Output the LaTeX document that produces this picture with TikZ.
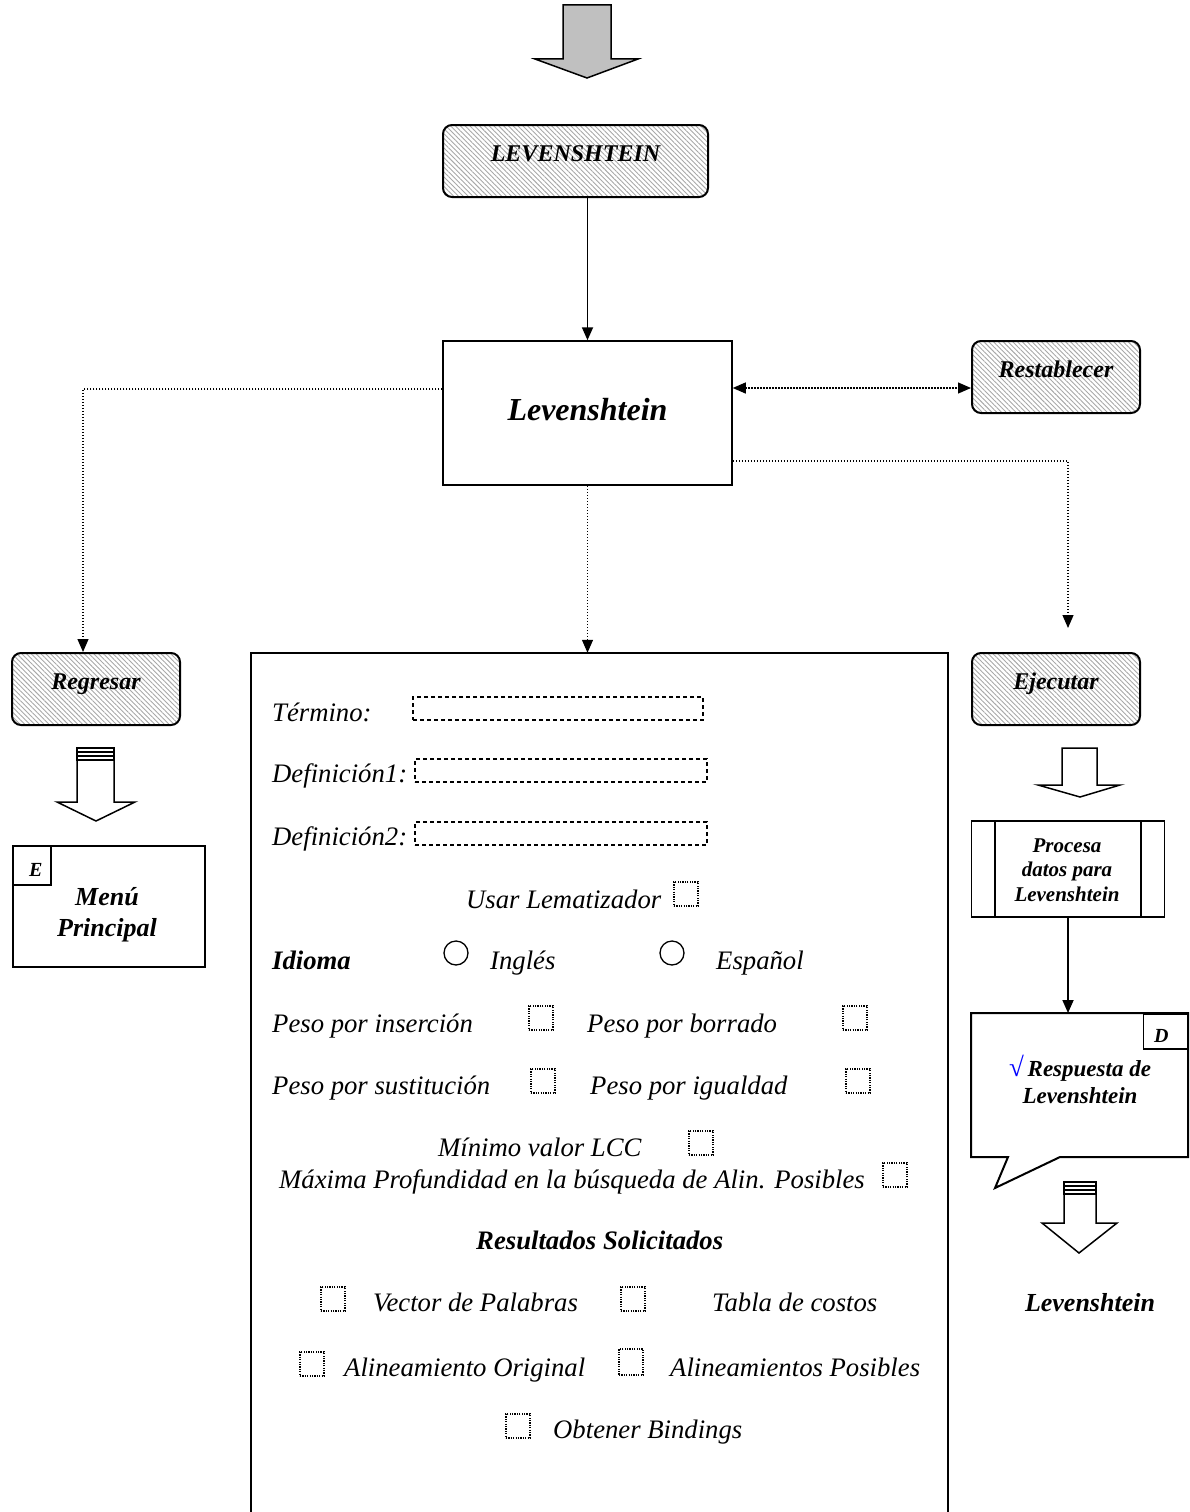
\documentclass[tikz,border=0pt]{standalone}
\usepackage{fontspec}
\setmainfont{Liberation Serif}
\usetikzlibrary{arrows.meta,patterns.meta}

\definecolor{hatch}{RGB}{168,168,168}
\definecolor{shade}{RGB}{192,192,192}

\tikzset{
  btn/.style={draw, line width=2pt, rounded corners=9pt, inner sep=0pt,
    minimum width=168pt, minimum height=72pt, text height=10pt, text depth=10pt,
    pattern={Lines[angle=-45,distance=3.4pt,line width=0.9pt]}, pattern color=hatch,
    font=\fontsize{24}{28}\selectfont\bfseries\itshape},
  plainbox/.style={draw, line width=1.5pt, inner sep=0pt},
  lbl/.style={anchor=base west, inner sep=0pt, font=\fontsize{26.7}{30}\selectfont\itshape},
  blbl/.style={lbl, font=\fontsize{26.7}{30}\selectfont\bfseries\itshape},
  field/.style={draw, line width=2pt, dash pattern=on 4pt off 3pt, inner sep=0pt,
    minimum height=23pt},
  chk/.style={draw, line width=1.1pt, dash pattern=on 1.2pt off 1.2pt, inner sep=0pt,
    minimum width=24pt, minimum height=24pt},
  radio/.style={draw, circle, line width=1.3pt, inner sep=0pt, minimum size=24pt},
  conn/.style={line width=1.8pt, -{Triangle[length=13pt,width=11pt]}},
  dconn/.style={line width=1.2pt, dash pattern=on 1.5pt off 1.5pt,
    -{Triangle[length=13pt,width=11pt]}},
  blk/.style={line width=1.5pt, fill=white, line join=miter},
  tag/.style={plainbox, inner sep=0pt, text height=22pt, text depth=0pt,
    font=\fontsize{20}{24}\selectfont\bfseries\itshape},
}

\begin{document}
\begin{tikzpicture}[x=1pt,y=-1pt]
\useasboundingbox (0,0) rectangle (1190,1512);

% entry arrow
\draw[line width=1.5pt, fill=shade] (563,5) -- (611,5) -- (611,59) -- (638,59)
  -- (587,78) -- (535,59) -- (563,59) -- cycle;

% main nodes
\node[btn, minimum width=265pt] (top) at (575.5,161) {LEVENSHTEIN};
\node[plainbox, minimum width=289pt, minimum height=144pt, text height=20pt, text depth=6pt,
  font=\fontsize{32}{36}\selectfont\bfseries\itshape] (lev) at (587.5,413) {Levenshtein};
\node[btn] (rest) at (1056,377) {Restablecer};
\node[btn] (reg) at (96,689) {Regresar};
\node[btn] (eje) at (1056,689) {Ejecutar};
\coordinate (ejin) at (1068,628);

% form panel (open at the bottom)
\node[minimum width=697pt, minimum height=860pt, inner sep=0pt] (form) at (599.5,1083) {};
\draw[line width=1.5pt] (form.south west) -- (form.north west) -- (form.north east) -- (form.south east);

% connectors
\draw[conn] (top.south -| lev.north) -- (lev.north);
\draw[dconn] (lev.west |- 0,389) -| ([xshift=-13pt]reg.north);
\draw[dconn, {Triangle[length=13pt,width=11pt]}-{Triangle[length=13pt,width=11pt]}]
  (lev.east |- 0,388) -- (rest.west |- 0,388);
\draw[dconn] (lev.east |- 0,461) -| (ejin);
\draw[dconn] (lev.south) -- (lev.south |- form.north);

% left column: back to main menu
\draw[blk] (77,760) -- (77,802) -- (57,802) -- (96,821) -- (135,802) -- (114,802) -- (114,760);
\draw[line width=1.5pt] (77,748) rectangle (114,760);
\draw[line width=1.3pt] (77,752) -- (114,752) (77,756) -- (114,756);
\node[plainbox, minimum width=192pt, minimum height=121pt, anchor=north west] (menu) at (12,845) {};
\node[align=center, inner sep=0pt, font=\fontsize{26}{31}\selectfont\bfseries\itshape]
  (menut) at (107,915) {Menú\\Principal};
\node[tag, minimum width=38pt, minimum height=39pt, anchor=north west] (ebox) at (12,845)
  {\hspace*{8pt}E};

% right column: run and answer
\draw[blk] (1062,748) -- (1097,748) -- (1097,785) -- (1120,785) -- (1080,797)
  -- (1038,785) -- (1062,785) -- cycle;
\node[plainbox, minimum width=193pt, minimum height=96pt] (proc) at (1068,869) {};
\draw[line width=1.5pt] (995,821) -- (995,917) (1141,821) -- (1141,917);
\node[align=center, inner sep=0pt, font=\fontsize{21}{24.5}\selectfont\bfseries\itshape]
  (proct) at (1067,870) {Procesa\\datos para\\Levenshtein};
\coordinate (calltop) at (1068,1013);
\draw[conn] (proc.south) -- (calltop);
\draw[line width=2pt, line join=miter] (971,1013) -- (1188,1013) -- (1188,1157) -- (1060,1157)
  -- (995,1188) -- (1008,1157) -- (971,1157) -- cycle;
\node[tag, minimum width=44pt, minimum height=35pt, anchor=north east] (dbox) at (1188,1013)
  {D\hspace*{8pt}};
\node[align=center, inner sep=0pt, font=\fontsize{23}{27}\selectfont\bfseries\itshape]
  (resp) at (1080,1079) {{\color{blue}\normalfont\fontsize{27}{27}\selectfont√}\,Respuesta de\\Levenshtein};
\draw[blk] (1064,1194) -- (1064,1223) -- (1042,1223) -- (1079,1253) -- (1117,1223)
  -- (1096,1223) -- (1096,1194);
\draw[line width=1.5pt] (1064,1182) rectangle (1096,1194);
\draw[line width=1.3pt] (1064,1186) -- (1096,1186) (1064,1190) -- (1096,1190);
\node[inner sep=0pt, font=\fontsize{26}{30}\selectfont\bfseries\itshape] (levout)
  at (1090,1303) {Levenshtein};

% form contents
\node[lbl] (t1) at (272,721) {Término:};
\node[field, minimum width=290pt, anchor=north west] (f1) at (412,696) {};
\node[lbl] (t2) at (272,782) {Definición1:};
\node[field, minimum width=292pt, anchor=north west] (f2) at (414,758) {};
\node[lbl] (t3) at (272,845) {Definición2:};
\node[field, minimum width=292pt, anchor=north west] (f3) at (414,821) {};

\node[lbl] (t4) at (466,908) {Usar Lematizador};
\node[chk] (c1) at (686,894) {};

\node[blbl] (t5) at (272,969) {Idioma};
\node[radio] (r1) at (456,953) {};
\node[lbl] (t6) at (490,969) {Inglés};
\node[radio] (r2) at (672,953) {};
\node[lbl] (t7) at (716,969) {Español};

\node[lbl] (t8) at (272,1032) {Peso por inserción};
\node[chk] (c2) at (541,1018) {};
\node[lbl] (t9) at (587,1032) {Peso por borrado};
\node[chk] (c3) at (855,1018) {};

\node[lbl] (t10) at (272,1094) {Peso por sustitución};
\node[chk] (c4) at (543,1081) {};
\node[lbl] (t11) at (590,1094) {Peso por igualdad};
\node[chk] (c5) at (858,1081) {};

\node[lbl] (t12) at (438,1156) {Mínimo valor LCC};
\node[chk] (c6) at (701,1143) {};
\node[lbl] (t13) at (279,1188) {Máxima Profundidad en la búsqueda de Alin. Posibles};
\node[chk] (c7) at (895,1175) {};

\node[blbl] (t14) at (476,1249) {Resultados Solicitados};

\node[chk] (c8) at (333,1299) {};
\node[lbl] (t15) at (373,1311) {Vector de Palabras};
\node[chk] (c9) at (633,1299) {};
\node[lbl] (t16) at (712,1311) {Tabla de costos};

\node[chk] (c10) at (312,1364) {};
\node[lbl] (t17) at (344,1376) {Alineamiento Original};
\node[chk, minimum height=26pt] (c11) at (631,1362) {};
\node[lbl] (t18) at (670,1376) {Alineamientos Posibles};

\node[chk] (c12) at (518,1426) {};
\node[lbl] (t19) at (553,1438) {Obtener Bindings};
\end{tikzpicture}
\end{document}
